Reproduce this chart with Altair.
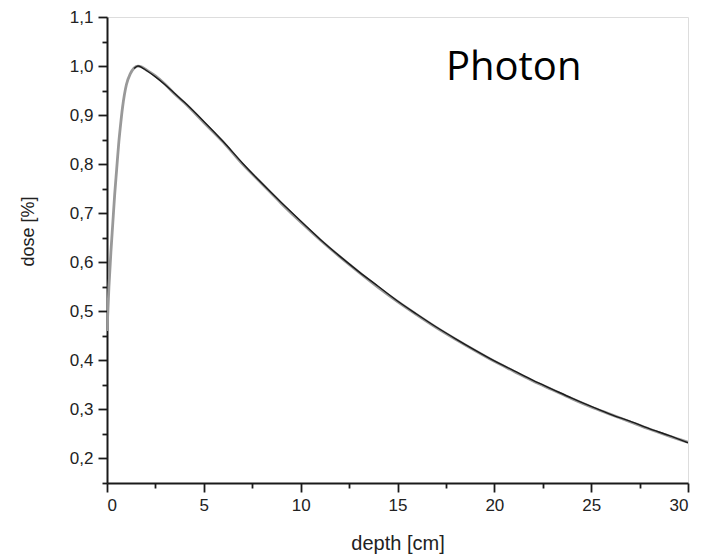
import altair as alt
import pandas as pd

# depth [cm] and relative dose
depth_calc = [0, 0.1, 0.2, 0.3, 0.4, 0.5, 0.6, 0.7, 0.8, 1.0, 1.2, 1.4, 1.6, 1.8, 2.0, 2.5,
              3.0, 3.5, 4.0, 5.0, 6.0, 7.0, 8.0, 9.0, 10.0, 11.0, 12.0, 13.0, 14.0, 15.0,
              16.0, 17.0, 18.0, 19.0, 20.0, 21.0, 22.0, 23.0, 24.0, 25.0, 26.0, 27.0,
              28.0, 29.0, 30.0]
dose_calc = [0.46, 0.55, 0.62, 0.68, 0.74, 0.79, 0.84, 0.88, 0.915, 0.962, 0.984, 0.996,
             1.0, 0.998, 0.993, 0.98, 0.963, 0.943, 0.925, 0.885, 0.845, 0.800, 0.760,
             0.720, 0.682, 0.646, 0.612, 0.580, 0.549, 0.520, 0.493, 0.467, 0.443, 0.420,
             0.398, 0.378, 0.358, 0.340, 0.322, 0.305, 0.290, 0.275, 0.260, 0.246, 0.233]

depth_meas = [1.4, 1.6, 1.8, 2.0, 2.5, 3.0, 3.5, 4.0, 5.0, 6.0, 7.0, 8.0, 9.0, 10.0, 11.0,
              12.0, 13.0, 14.0, 15.0, 16.0, 17.0, 18.0, 19.0, 20.0, 21.0, 22.0, 23.0,
              24.0, 25.0, 26.0, 27.0, 28.0, 29.0, 30.0]
dose_meas = [0.995, 1.0, 0.997, 0.992, 0.978, 0.962, 0.944, 0.926, 0.887, 0.846, 0.802,
             0.761, 0.722, 0.684, 0.647, 0.613, 0.581, 0.551, 0.521, 0.494, 0.468, 0.444,
             0.421, 0.399, 0.379, 0.359, 0.341, 0.323, 0.306, 0.290, 0.276, 0.261, 0.247,
             0.232]

x_major = [0, 5, 10, 15, 20, 25, 30]
x_minor = [2.5, 7.5, 12.5, 17.5, 22.5, 27.5]
y_major = [0.2, 0.3, 0.4, 0.5, 0.6, 0.7, 0.8, 0.9, 1.0, 1.1]
y_minor = [0.15, 0.25, 0.35, 0.45, 0.55, 0.65, 0.75, 0.85, 0.95, 1.05]

label_text = ["Photon"]
label_x = [21.0]
label_y = [0.972]

calc = pd.DataFrame({"depth": depth_calc, "dose": dose_calc})
meas = pd.DataFrame({"depth": depth_meas, "dose": dose_meas})
ann = pd.DataFrame({"t": label_text, "x": label_x, "y": label_y})

xs = alt.Scale(domain=[0, 30], nice=False, zero=False)
ys = alt.Scale(domain=[0.15, 1.1], nice=False, zero=False)

comma = "replace(format(datum.value, '.1f'), '.', ',')"

main_x = alt.Axis(values=x_major, orient="bottom", tickSize=9, tickWidth=1.8,
                  tickColor="#1a1a1a", domainColor="#1a1a1a", domainWidth=2,
                  labelFont="Liberation Sans", labelFontSize=17, labelColor="#222",
                  labelPadding=5, grid=False, title="depth [cm]",
                  titleFont="Liberation Sans", titleFontSize=20, titleFontWeight="normal",
                  titleColor="#222", titleY=66, titleBaseline="alphabetic")
main_y = alt.Axis(values=y_major, orient="left", tickSize=9, tickWidth=1.8,
                  tickColor="#1a1a1a", domainColor="#1a1a1a", domainWidth=2,
                  labelFont="Liberation Sans", labelFontSize=17, labelColor="#222",
                  labelPadding=5, labelExpr=comma, grid=False, title="dose [%]",
                  titleFont="Liberation Sans", titleFontSize=18, titleFontWeight="normal",
                  titleColor="#222", titleX=-79, titleY=214, titleAngle=-90,
                  titleAlign="center", titleBaseline="middle")
minor_x = alt.Axis(values=x_minor, orient="bottom", tickSize=5, tickWidth=1.8,
                   tickColor="#1a1a1a", labels=False, domain=False, grid=False, title=None)
minor_y = alt.Axis(values=y_minor, orient="left", tickSize=5, tickWidth=1.8,
                   tickColor="#1a1a1a", labels=False, domain=False, grid=False, title=None)

gray = alt.Chart(calc).mark_line(color="#999999", strokeWidth=2.8, clip=True,
                                 interpolate="monotone").encode(
    x=alt.X("depth:Q", scale=xs, axis=main_x),
    y=alt.Y("dose:Q", scale=ys, axis=main_y),
)
black = alt.Chart(meas).mark_line(color="#1a1a1a", strokeWidth=1.4, clip=True,
                                  interpolate="monotone").encode(
    x=alt.X("depth:Q", scale=xs, axis=minor_x),
    y=alt.Y("dose:Q", scale=ys, axis=minor_y),
)
text = alt.Chart(ann).mark_text(font="Open Sans", fontSize=40, color="#000000",
                                align="center", baseline="alphabetic").encode(
    x=alt.X("x:Q", scale=xs, axis=None),
    y=alt.Y("y:Q", scale=ys, axis=None),
    text="t:N",
)

chart = alt.layer(gray, black, text).resolve_axis(
    x="independent", y="independent"
).properties(
    width=581, height=466,
    autosize=alt.AutoSizeParams(type="none"),
    padding={"left": 99, "top": 9, "right": 11, "bottom": 75},
).configure_view(stroke="#1a1a1a", strokeWidth=1.8).configure(background="white")

chart.save("out.html", embed_options={"renderer": "svg", "actions": False})
